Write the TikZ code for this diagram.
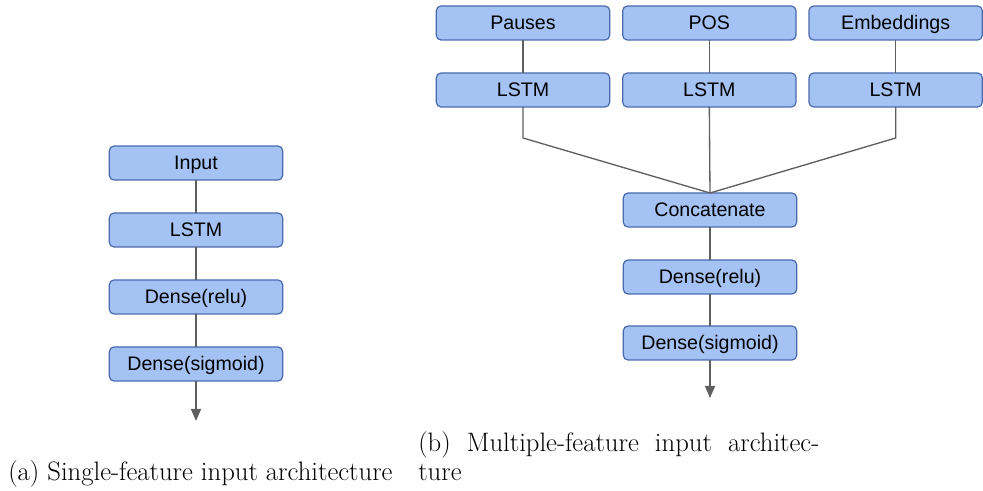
\documentclass[tikz,border=0pt]{standalone}
\usepackage{fontspec}
\newfontfamily\boxfont{Liberation Sans}
\usetikzlibrary{positioning,arrows.meta}

\definecolor{boxfill}{HTML}{A4C2F4}
\definecolor{boxline}{HTML}{4A6AAE}
\definecolor{wire}{HTML}{5F5F5F}

\begin{document}
\begin{tikzpicture}[
    x=0.75pt,y=-0.75pt,
    layer/.style={
        rectangle,draw=boxline,fill=boxfill,rounded corners=3.5pt,
        line width=0.9pt,
        minimum width=130pt,
        minimum height=25.5pt,
        inner sep=0pt,outer sep=0pt,
        text height=13.5pt,text depth=3pt,
        font=\boxfont\fontsize{14.7}{17}\selectfont
    },
    link/.style={draw=wire,line width=1pt},
    outlink/.style={link,-{Triangle[width=7.5pt,length=9pt]}},
    caption/.style={anchor=base west,inner sep=0pt,font=\fontsize{20}{24}\selectfont}
]
\useasboundingbox (0,0) rectangle (983,491);

% single-feature
\node[layer] (input) at (196,163) {Input};
\node[layer, below=24.75pt of input] (lstm) {LSTM};
\node[layer, below=24.75pt of lstm] (relu) {Dense(relu)};
\node[layer, below=24.75pt of relu] (sigm) {Dense(sigmoid)};

\draw[link] (input) -- (lstm);
\draw[link] (lstm) -- (relu);
\draw[link] (relu) -- (sigm);
\draw[outlink] (sigm.south) -- ++(0,40);

% multiple-feature
\node[layer] (pauses) at (523,23) {Pauses};
\node[layer, right=9.75pt of pauses] (pos) {POS};
\node[layer, right=9.75pt of pos] (emb) {Embeddings};
\node[layer, below=24.75pt of pauses] (lstma) {LSTM};
\node[layer, below=24.75pt of pos] (lstmb) {LSTM};
\node[layer, below=24.75pt of emb] (lstmc) {LSTM};
\node[layer] (concat) at (710,210) {Concatenate};
\node[layer, below=24.75pt of concat] (relub) {Dense(relu)};
\node[layer, below=24pt of relub] (sigmb) {Dense(sigmoid)};

\draw[link] (pauses) -- (lstma);
\draw[link] (pos) -- (lstmb);
\draw[link] (emb) -- (lstmc);
\draw[link] (lstma.south) -- ++(0,31) -- (concat.north);
\draw[link] (lstmb.south) -- (concat.north);
\draw[link] (lstmc.south) -- ++(0,31) -- (concat.north);
\draw[link] (concat) -- (relub);
\draw[link] (relub) -- (sigmb);
\draw[outlink] (sigmb.south) -- ++(0,38);

% captions
\node[caption] (capa) at (8,481) {(a) Single-feature input architecture};
\node[caption] (capb) at (418,452) {(b)\ \ Multiple-feature\ \ input\ \ architec-};
\node[caption] (capc) at (418,481) {ture};
\end{tikzpicture}
\end{document}
